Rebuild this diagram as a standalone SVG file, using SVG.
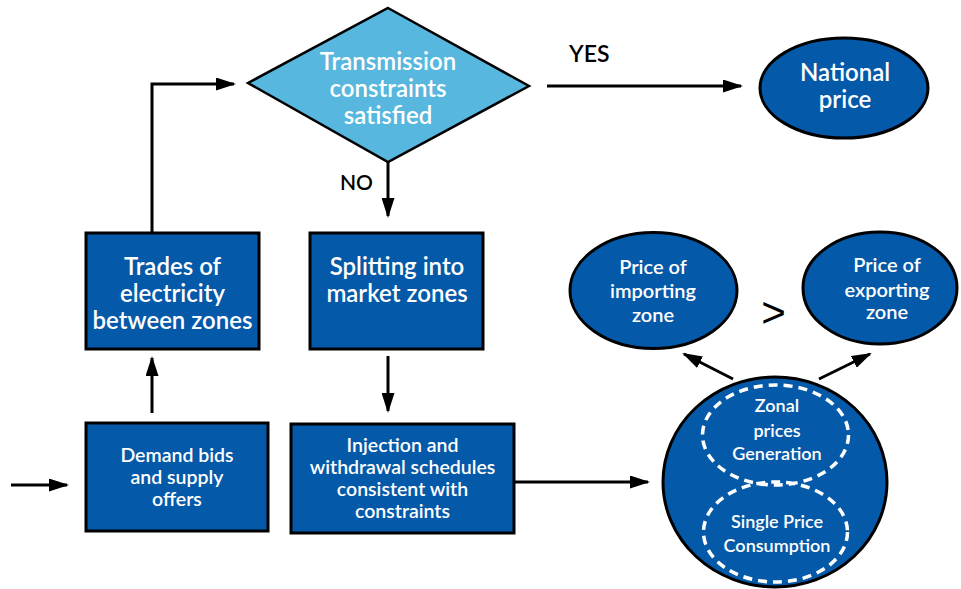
<svg xmlns="http://www.w3.org/2000/svg" width="961" height="589" viewBox="0 0 961 589">
<style>
  .box{fill:#0559A9;stroke:#000;stroke-width:3}
  .dia{fill:#58B7DE;stroke:#000;stroke-width:2.5}
  .dash{fill:none;stroke:#fff;stroke-width:3.5;stroke-dasharray:9 6}
  .t{font-family:Lato,"Liberation Sans",sans-serif;fill:#fff;text-anchor:middle;font-weight:600}
  .k{font-family:Lato,"Liberation Sans",sans-serif;fill:#000;font-weight:600}
  .c{fill:none;stroke:#000;stroke-width:3}
</style>
<defs>
  <marker id="ah" viewBox="0 0 20 13" refX="18" refY="6.5" markerWidth="20" markerHeight="13" markerUnits="userSpaceOnUse" orient="auto">
    <path d="M0,0 L20,6.5 L0,13 z" fill="#000"/>
  </marker>
</defs>
<rect width="961" height="589" fill="#fff"/>

<g id="connectors">
  <path class="c" d="M11,485 H67" marker-end="url(#ah)"/>
  <path class="c" d="M152,413 V358" marker-end="url(#ah)"/>
  <path class="c" d="M152,233 V84 H234" marker-end="url(#ah)"/>
  <path class="c" d="M388,162 V216" marker-end="url(#ah)"/>
  <path class="c" d="M388,356 V411" marker-end="url(#ah)"/>
  <path class="c" d="M547,86 H741" marker-end="url(#ah)"/>
  <path class="c" d="M514,482 H648" marker-end="url(#ah)"/>
  <path class="c" d="M733,379 L684,354" marker-end="url(#ah)"/>
  <path class="c" d="M819,379 L870,354" marker-end="url(#ah)"/>
  <text class="k" x="569" y="62" font-size="23">YES</text>
  <text class="k" x="340" y="190" font-size="21">NO</text>
</g>

<g id="decision">
  <polygon class="dia" points="388,8 529,86 388,162 248,83"/>
  <text class="t" x="388" y="70" font-size="24">Transmission</text>
  <text class="t" x="388" y="97" font-size="24">constraints</text>
  <text class="t" x="388" y="124" font-size="24">satisfied</text>
</g>

<g id="national">
  <ellipse class="box" cx="844" cy="88" rx="84" ry="50"/>
  <text class="t" x="845" y="80.5" font-size="24">National</text>
  <text class="t" x="845" y="107.5" font-size="24">price</text>
</g>

<g id="trades">
  <rect class="box" x="86" y="233" width="173" height="116"/>
  <text class="t" x="172.5" y="275" font-size="24">Trades of</text>
  <text class="t" x="172.5" y="302" font-size="24">electricity</text>
  <text class="t" x="172.5" y="329" font-size="24">between zones</text>
</g>

<g id="splitting">
  <rect class="box" x="310" y="233" width="173" height="116"/>
  <text class="t" x="397" y="275" font-size="24">Splitting into</text>
  <text class="t" x="397" y="302" font-size="24">market zones</text>
</g>

<g id="demand">
  <rect class="box" x="86" y="423" width="182" height="108"/>
  <text class="t" x="177" y="462" font-size="19.5">Demand bids</text>
  <text class="t" x="177" y="484" font-size="19.5">and supply</text>
  <text class="t" x="177" y="506" font-size="19.5">offers</text>
</g>

<g id="injection">
  <rect class="box" x="291" y="424" width="223" height="109"/>
  <text class="t" x="402.5" y="452" font-size="19.5">Injection and</text>
  <text class="t" x="402.5" y="474" font-size="19.5">withdrawal schedules</text>
  <text class="t" x="402.5" y="496" font-size="19.5">consistent with</text>
  <text class="t" x="402.5" y="518" font-size="19.5">constraints</text>
</g>

<g id="importing">
  <ellipse class="box" cx="653.5" cy="290.5" rx="83.5" ry="58"/>
  <text class="t" x="653" y="274" font-size="20">Price of</text>
  <text class="t" x="653" y="298" font-size="20">importing</text>
  <text class="t" x="653" y="322" font-size="20">zone</text>
</g>

<g id="compare">
  <text x="773.5" y="326.5" font-size="42" font-family="'Liberation Sans',sans-serif" fill="#000" text-anchor="middle">&gt;</text>
</g>

<g id="exporting">
  <ellipse class="box" cx="880" cy="288" rx="77" ry="56"/>
  <text class="t" x="887" y="272" font-size="20">Price of</text>
  <text class="t" x="887" y="297" font-size="20">exporting</text>
  <text class="t" x="887" y="319" font-size="20">zone</text>
</g>

<g id="zonal">
  <ellipse class="box" cx="775" cy="482" rx="112" ry="105"/>
  <ellipse class="dash" cx="775.5" cy="435" rx="73" ry="50"/>
  <ellipse class="dash" cx="775.5" cy="532" rx="72" ry="50"/>
  <text class="t" x="777" y="412" font-size="18">Zonal</text>
  <text class="t" x="777" y="437" font-size="18">prices</text>
  <text class="t" x="777" y="460" font-size="18">Generation</text>
  <text class="t" x="777" y="528" font-size="18">Single Price</text>
  <text class="t" x="777" y="552" font-size="18">Consumption</text>
</g>
</svg>
